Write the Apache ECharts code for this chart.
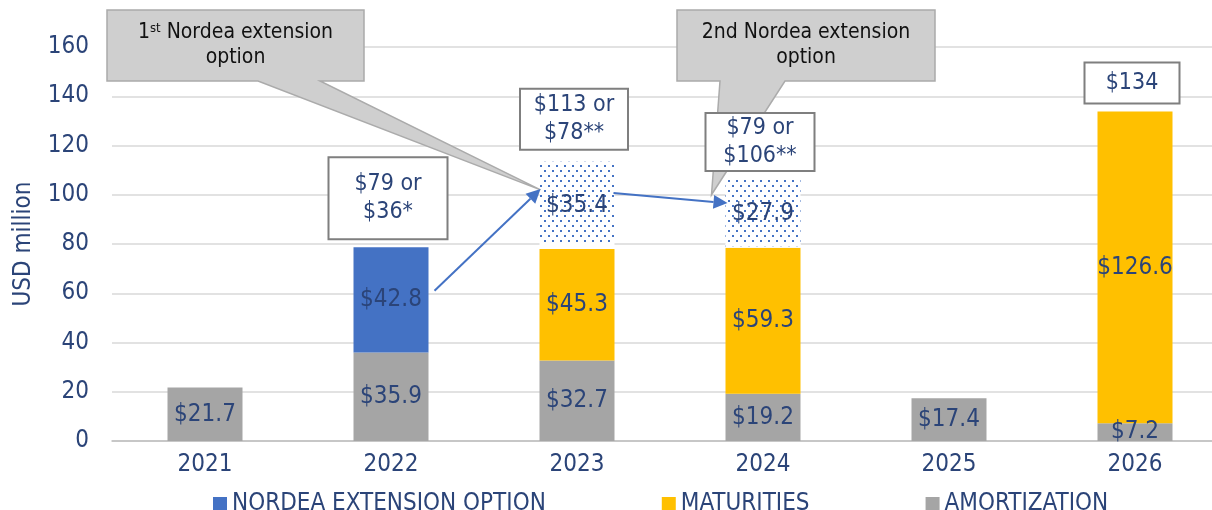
<!DOCTYPE html>
<html>
<head>
<meta charset="utf-8">
<script src="https://cdn.jsdelivr.net/npm/echarts@6/dist/echarts.min.js"></script>
<style>
  html, body { margin: 0; padding: 0; background: #fff; }
  #main { width: 1212px; height: 510px; }
</style>
</head>
<body>
<div id="main"></div>
<script>
const categories = ["2021", "2022", "2023", "2024", "2025", "2026"];
const amortization = [21.7, 35.9, 32.7, 19.2, 17.4, 7.2];
const maturities = [null, null, 45.3, 59.3, null, 126.6];
const nordeaOption = [null, 42.8, null, null, null, null];
const extensionOption = [null, null, 35.4, 27.9, null, null];
const totalNotes = [null, "$79 or\n$36*", "$113 or\n$78**", "$79 or\n$106**", null, "$134"];
const yTicks = { min: 0, max: 160, interval: 20 };

const FONT = "'DejaVu Sans Condensed', 'DejaVu Sans', sans-serif";
const TXT = "#2B4478";
const BAR_W = 75;

// dotted fill for the extension part
const pat = document.createElement("canvas");
pat.width = 8;
pat.height = 10;
const pc = pat.getContext("2d");
pc.fillStyle = "#fff";
pc.fillRect(0, 0, 8, 10);
pc.fillStyle = "#4472C4";
pc.fillRect(0, 0, 2, 2);
pc.fillRect(4, 5, 2, 2);

const lbl = {
  show: true,
  position: "inside",
  formatter: p => "$" + p.value.toFixed(1),
  color: TXT,
  fontSize: 24,
  fontFamily: FONT
};

const chart = echarts.init(document.getElementById("main"));
chart.setOption({
  animation: false,
  grid: { left: 112, width: 1116, top: 47, bottom: 69, containLabel: false, outerBoundsMode: "none" },
  legend: {
    data: ["NORDEA EXTENSION OPTION", "MATURITIES", "AMORTIZATION"],
    icon: "rect",
    itemWidth: 14,
    itemHeight: 14,
    itemGap: 116,
    left: 208,
    top: 487,
    textStyle: { color: TXT, fontSize: 24, fontFamily: FONT }
  },
  xAxis: {
    type: "category",
    data: categories,
    axisLine: { lineStyle: { color: "#BFBFBF", width: 1.5 } },
    axisTick: { length: 8, lineStyle: { color: "#BFBFBF", width: 1.5 } },
    axisLabel: { color: TXT, fontSize: 24, fontFamily: FONT, margin: 12 }
  },
  yAxis: {
    type: "value",
    min: yTicks.min,
    max: yTicks.max,
    interval: yTicks.interval,
    name: "USD million",
    nameLocation: "middle",
    nameGap: 76,
    nameTextStyle: { color: TXT, fontSize: 24, fontFamily: FONT },
    axisLine: { show: false },
    axisTick: { show: false },
    splitLine: { lineStyle: { color: "#D9D9D9", width: 1.5 } },
    axisLabel: { color: TXT, fontSize: 24, fontFamily: FONT, margin: 23 }
  },
  series: [
    {
      name: "AMORTIZATION",
      type: "bar",
      stack: "total",
      barWidth: BAR_W,
      data: amortization,
      itemStyle: { color: "#A5A5A5" },
      label: lbl
    },
    {
      name: "MATURITIES",
      type: "bar",
      stack: "total",
      data: maturities,
      itemStyle: { color: "#FFC000" },
      label: lbl
    },
    {
      name: "NORDEA EXTENSION OPTION",
      type: "bar",
      stack: "total",
      data: nordeaOption,
      itemStyle: { color: "#4472C4" },
      label: lbl
    },
    {
      name: "extension",
      type: "bar",
      stack: "total",
      data: extensionOption,
      itemStyle: { color: { image: pat, repeat: "repeat" } },
      label: lbl
    }
  ]
});

// annotations placed from the grid's own scale
function px(i, v) {
  return chart.convertToPixel({ gridIndex: 0 }, [i, v]);
}
const half = BAR_W / 2;
const graphics = [];

// white gap between maturities and dotted extension part
extensionOption.forEach((v, i) => {
  if (v == null) return;
  const base = (amortization[i] || 0) + (maturities[i] || 0);
  const p = px(i, base);
  graphics.push({
    type: "rect",
    shape: { x: p[0] - half, y: p[1] - 4, width: BAR_W, height: 3 },
    style: { fill: "#fff" },
    z: 4
  });
});

// total boxes above bars
const boxSize = { 1: [119, 82], 2: [108, 61], 3: [109, 58], 5: [95, 41] };
totalNotes.forEach((t, i) => {
  if (!t) return;
  const top = (amortization[i] || 0) + (maturities[i] || 0) + (nordeaOption[i] || 0) + (extensionOption[i] || 0);
  const p = px(i, top);
  const [w, h] = boxSize[i];
  const gap = i === 2 ? 12 : 8;
  const cx = p[0] - 3;
  const by = p[1] - gap;
  graphics.push({
    type: "rect",
    shape: { x: cx - w / 2, y: by - h, width: w, height: h },
    style: { fill: "#fff", stroke: "#7F7F7F", lineWidth: 2 },
    z: 10
  });
  graphics.push({
    type: "text",
    x: cx,
    y: by - h / 2,
    style: {
      text: t,
      fill: TXT,
      font: "23px " + FONT,
      align: "center",
      verticalAlign: "middle",
      lineHeight: 28
    },
    z: 11
  });
});

// gray callouts with pointers
function callout(x0, x1, y0, y1, b0, b1, tip, lines) {
  graphics.push({
    type: "polygon",
    shape: { points: [[x0, y0], [x1, y0], [x1, y1], [b1, y1], tip, [b0, y1], [x0, y1]] },
    style: { fill: "#CFCFCF", stroke: "#ABABAB", lineWidth: 1.5 },
    z: 5
  });
  graphics.push({
    type: "text",
    x: (x0 + x1) / 2,
    y: (y0 + y1) / 2,
    style: {
      text: lines,
      fill: "#111",
      font: "21px " + FONT,
      align: "center",
      verticalAlign: "middle",
      lineHeight: 25,
      rich: {
        n: { fontSize: 21, fontFamily: FONT, fill: "#111", lineHeight: 25 },
        sup: { fontSize: 13, fontFamily: FONT, fill: "#111", padding: [0, 0, 9, 0], lineHeight: 25 }
      }
    },
    z: 6
  });
}
const t1 = px(2, 102);
callout(107, 364, 10, 81, 258, 320, [t1[0] - half + 1, t1[1]], "{n|1}{sup|st}{n| Nordea extension}\n{n|option}");
const t2 = px(3, 100);
callout(677, 935, 10, 81, 720, 785, [t2[0] - half - 14, t2[1]], "2nd Nordea extension\noption");

// blue arrows
function arrow(a, b) {
  const ang = Math.atan2(b[1] - a[1], b[0] - a[0]);
  const L = 14, W = 7;
  const base = [b[0] - L * Math.cos(ang), b[1] - L * Math.sin(ang)];
  graphics.push({
    type: "line",
    shape: { x1: a[0], y1: a[1], x2: base[0], y2: base[1] },
    style: { stroke: "#4472C4", lineWidth: 2 },
    z: 12
  });
  graphics.push({
    type: "polygon",
    shape: {
      points: [
        b,
        [base[0] + W * Math.sin(ang), base[1] - W * Math.cos(ang)],
        [base[0] - W * Math.sin(ang), base[1] + W * Math.cos(ang)]
      ]
    },
    style: { fill: "#4472C4" },
    z: 12
  });
}
const a1s = px(1, 61), a1e = px(2, 102.3);
arrow([a1s[0] + half + 6, a1s[1]], [a1e[0] - half + 1, a1e[1]]);
const a2s = px(2, 100.7), a2e = px(3, 96.6);
arrow([a2s[0] + half - 1, a2s[1]], [a2e[0] - half + 2, a2e[1]]);

chart.setOption({ graphic: graphics });
</script>
</body>
</html>
